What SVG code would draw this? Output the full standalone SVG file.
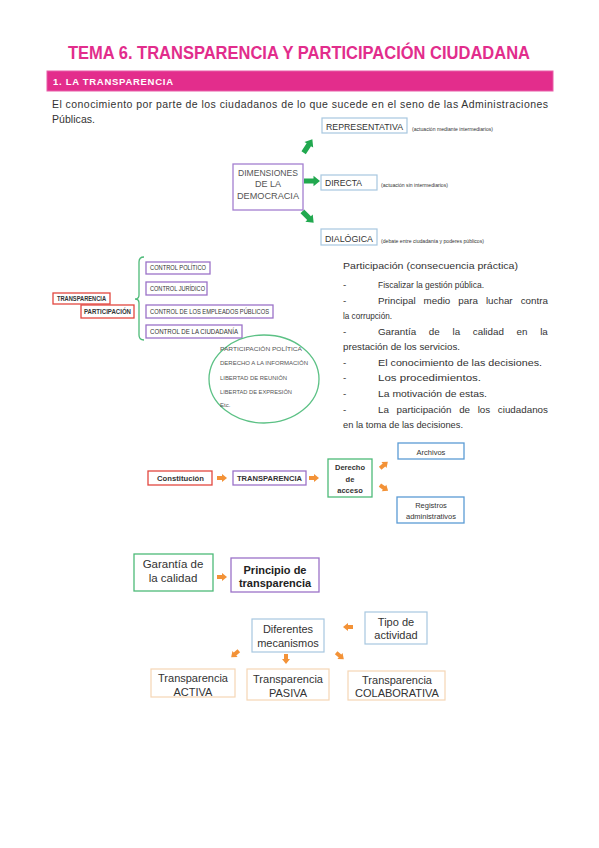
<svg xmlns="http://www.w3.org/2000/svg" width="599" height="848" viewBox="0 0 599 848">
<defs>
<style>
.t{font-family:"Liberation Sans",Arial,sans-serif;fill:#333}
.b{font-weight:bold}
.pur{fill:#fff;stroke:#9b72c8;stroke-width:1.3}
.red{fill:#fff;stroke:#e2473f;stroke-width:1.3}
.grn{fill:#fff;stroke:#4dba78;stroke-width:1.3}
.blu{fill:#fff;stroke:#5b9bd5;stroke-width:1.3}
.lblu{fill:#fff;stroke:#a7c7df;stroke-width:1.2}
.lor{fill:#fff;stroke:#f5d6b5;stroke-width:1.2}
.ga{fill:#21a84f}
.oa{fill:#f39237}
</style>
<polygon id="garr" points="-8,-2.6 1.5,-2.6 1.5,-5.2 8,0 1.5,5.2 1.5,2.6 -8,2.6"/>
<polygon id="oarr" points="-5,-2 0,-2 0,-4 5,0 0,4 0,2 -5,2"/>
</defs>
<rect width="599" height="848" fill="#fff"/>

<text class="t b" x="68" y="59" font-size="18.5" style="fill:#e22d8c" textLength="462" lengthAdjust="spacingAndGlyphs">TEMA 6. TRANSPARENCIA Y PARTICIPACIÓN CIUDADANA</text>
<rect x="47" y="71" width="506" height="20" fill="#e32d8c" stroke="#e85fa8" stroke-width="1"/>
<text class="t b" x="53" y="85" font-size="9.5" style="fill:#fff" textLength="120" lengthAdjust="spacing">1. LA TRANSPARENCIA</text>
<text class="t" x="52" y="108" font-size="10.5" textLength="496" lengthAdjust="spacing">El conocimiento por parte de los ciudadanos de lo que sucede en el seno de las Administraciones</text>
<text class="t" x="52" y="123" font-size="10.5" textLength="43" lengthAdjust="spacing">Públicas.</text>

<g id="connectors">
<use href="#garr" class="ga" transform="translate(308,146) rotate(-57)"/>
<use href="#garr" class="ga" transform="translate(312,181)"/>
<use href="#garr" class="ga" transform="translate(308,217) rotate(45)"/>
<path d="M144,257 Q139,257 139,262 L139,295 Q139,299 135,299 Q139,299 139,303 L139,335 Q139,340 144,340" fill="none" stroke="#4dba78" stroke-width="1.3"/>
<use href="#oarr" class="oa" transform="translate(222,478)"/>
<use href="#oarr" class="oa" transform="translate(314,478)"/>
<use href="#oarr" class="oa" transform="translate(384,465) rotate(-40)"/>
<use href="#oarr" class="oa" transform="translate(384,488) rotate(35)"/>
<use href="#oarr" class="oa" transform="translate(222,577)"/>
<use href="#oarr" class="oa" transform="translate(348,627) rotate(180)"/>
<use href="#oarr" class="oa" transform="translate(235,654) rotate(140)"/>
<use href="#oarr" class="oa" transform="translate(286,659) rotate(90)"/>
<use href="#oarr" class="oa" transform="translate(340,656) rotate(40)"/>
</g>

<g id="representativa">
<rect class="lblu" x="322" y="118" width="85" height="15"/>
<text class="t" x="326" y="129.5" font-size="9.5" textLength="77" lengthAdjust="spacingAndGlyphs">REPRESENTATIVA</text>
<text class="t" x="412" y="131" font-size="4.5" textLength="81" lengthAdjust="spacingAndGlyphs">(actuación mediante intermediarios)</text>
</g>
<g id="dimensiones">
<rect x="233" y="164" width="70" height="46" fill="#fff" stroke="#a47fd0" stroke-width="1.3"/>
<text class="t" x="268" y="175.5" font-size="9" text-anchor="middle" style="fill:#555" textLength="60" lengthAdjust="spacingAndGlyphs">DIMENSIONES</text>
<text class="t" x="268" y="187" font-size="9" text-anchor="middle" style="fill:#555">DE LA</text>
<text class="t" x="268" y="198.5" font-size="9" text-anchor="middle" style="fill:#555" textLength="62" lengthAdjust="spacingAndGlyphs">DEMOCRACIA</text>
</g>
<g id="directa">
<rect class="lblu" x="321" y="175" width="56" height="15"/>
<text class="t" x="325" y="185.5" font-size="9.5" textLength="37" lengthAdjust="spacingAndGlyphs">DIRECTA</text>
<text class="t" x="381" y="187" font-size="4.5" textLength="67" lengthAdjust="spacingAndGlyphs">(actuación sin intermediarios)</text>
</g>
<g id="dialogica">
<rect class="lblu" x="321" y="229" width="56" height="16"/>
<text class="t" x="325" y="241.5" font-size="9.5" textLength="48" lengthAdjust="spacingAndGlyphs">DIALÓGICA</text>
<text class="t" x="381" y="243" font-size="4.5" textLength="103" lengthAdjust="spacingAndGlyphs">(debate entre ciudadanía y poderes públicos)</text>
</g>

<g id="transparencia1">
<rect class="red" x="53" y="293" width="57" height="11"/>
<text class="t b" x="57" y="300.7" font-size="6.3" textLength="49" lengthAdjust="spacingAndGlyphs">TRANSPARENCIA</text>
</g>
<g id="participacion1">
<rect class="red" x="81" y="305" width="53" height="13"/>
<text class="t b" x="84" y="314" font-size="6.3" textLength="47" lengthAdjust="spacingAndGlyphs">PARTICIPACIÓN</text>
</g>
<g id="control-politico">
<rect class="pur" x="146" y="262" width="64" height="12"/>
<text class="t" x="150" y="270.3" font-size="6.3" textLength="56" lengthAdjust="spacingAndGlyphs">CONTROL POLÍTICO</text>
</g>
<g id="control-juridico">
<rect class="pur" x="146" y="282" width="61" height="13"/>
<text class="t" x="150" y="291" font-size="6.3" textLength="55" lengthAdjust="spacingAndGlyphs">CONTROL JURÍDICO</text>
</g>
<g id="control-empleados">
<rect class="pur" x="146" y="305" width="127" height="13"/>
<text class="t" x="150" y="314" font-size="6.3" textLength="119" lengthAdjust="spacingAndGlyphs">CONTROL DE LOS EMPLEADOS PÚBLICOS</text>
</g>
<g id="control-ciudadania">
<rect class="pur" x="146" y="325" width="96" height="13"/>
<text class="t" x="150" y="334" font-size="6.3" textLength="88" lengthAdjust="spacingAndGlyphs">CONTROL DE LA CIUDADANÍA</text>
</g>
<g id="derechos">
<ellipse cx="264" cy="379" rx="55" ry="44" fill="none" stroke="#5cc185" stroke-width="1.3"/>
<text class="t" x="220" y="351" font-size="6" style="fill:#555" textLength="82" lengthAdjust="spacingAndGlyphs">PARTICIPACIÓN POLÍTICA</text>
<text class="t" x="220" y="365" font-size="6" style="fill:#555" textLength="88" lengthAdjust="spacingAndGlyphs">DERECHO A LA INFORMACIÓN</text>
<text class="t" x="220" y="380" font-size="6" style="fill:#555" textLength="67" lengthAdjust="spacingAndGlyphs">LIBERTAD DE REUNIÓN</text>
<text class="t" x="220" y="394" font-size="6" style="fill:#555" textLength="72" lengthAdjust="spacingAndGlyphs">LIBERTAD DE EXPRESIÓN</text>
<text class="t" x="220" y="407" font-size="6" style="fill:#555">Etc.</text>
</g>

<g id="consecuencias" font-size="9.8">
<text class="t" x="343" y="269" textLength="175" lengthAdjust="spacingAndGlyphs">Participación (consecuencia práctica)</text>
<g class="t">
<text x="343" y="288">-</text><text x="378" y="288" textLength="106" lengthAdjust="spacingAndGlyphs">Fiscalizar la gestión pública.</text>
<text x="343" y="304">-</text><text x="378" y="304" word-spacing="5.3">Principal medio para luchar contra</text>
<text x="343" y="319" textLength="49" lengthAdjust="spacingAndGlyphs">la corrupción.</text>
<text x="343" y="335">-</text><text x="378" y="335" word-spacing="10">Garantía de la calidad en la</text>
<text x="343" y="350" textLength="117" lengthAdjust="spacingAndGlyphs">prestación de los servicios.</text>
<text x="343" y="366">-</text><text x="378" y="366" textLength="164" lengthAdjust="spacingAndGlyphs">El conocimiento de las decisiones.</text>
<text x="343" y="381">-</text><text x="378" y="381" textLength="103" lengthAdjust="spacingAndGlyphs">Los procedimientos.</text>
<text x="343" y="397">-</text><text x="378" y="397" textLength="109" lengthAdjust="spacingAndGlyphs">La motivación de estas.</text>
<text x="343" y="413">-</text><text x="378" y="413" word-spacing="4.9">La participación de los ciudadanos</text>
<text x="343" y="428" textLength="120" lengthAdjust="spacingAndGlyphs">en la toma de las decisiones.</text>
</g>
</g>

<g id="constitucion">
<rect class="red" x="148" y="471" width="64" height="14"/>
<text class="t b" x="157" y="481" font-size="7.5" textLength="47" lengthAdjust="spacingAndGlyphs">Constitución</text>
</g>
<g id="transparencia2">
<rect class="pur" x="233" y="471" width="73" height="14"/>
<text class="t b" x="237" y="481" font-size="7.5" textLength="65" lengthAdjust="spacingAndGlyphs">TRANSPARENCIA</text>
</g>
<g id="derecho-acceso">
<rect class="grn" x="328" y="459" width="44" height="38"/>
<text class="t b" x="350" y="470" font-size="7.5" text-anchor="middle">Derecho</text>
<text class="t b" x="350" y="481.5" font-size="7.5" text-anchor="middle">de</text>
<text class="t b" x="350" y="493" font-size="7.5" text-anchor="middle">acceso</text>
</g>
<g id="archivos">
<rect class="blu" x="398" y="443" width="66" height="16"/>
<text class="t" x="431" y="454.5" font-size="7.5" text-anchor="middle">Archivos</text>
</g>
<g id="registros">
<rect class="blu" x="397" y="497" width="67" height="26"/>
<text class="t" x="431" y="507.5" font-size="7.5" text-anchor="middle">Registros</text>
<text class="t" x="431" y="518.5" font-size="7.5" text-anchor="middle">administrativos</text>
</g>

<g id="garantia">
<rect class="grn" x="134" y="554" width="79" height="37"/>
<text class="t" x="173" y="568" font-size="11.5" text-anchor="middle">Garantía de</text>
<text class="t" x="173" y="582" font-size="11.5" text-anchor="middle">la calidad</text>
</g>
<g id="principio">
<rect class="pur" x="231" y="558" width="88" height="34"/>
<text class="t b" x="275" y="573.5" font-size="11" text-anchor="middle" style="fill:#222">Principio de</text>
<text class="t b" x="275" y="586.5" font-size="11" text-anchor="middle" style="fill:#222">transparencia</text>
</g>
<g id="tipo-actividad">
<rect class="lblu" x="365" y="612" width="62" height="32"/>
<text class="t" x="396" y="625.5" font-size="11" text-anchor="middle">Tipo de</text>
<text class="t" x="396" y="638.5" font-size="11" text-anchor="middle">actividad</text>
</g>
<g id="mecanismos">
<rect class="lblu" x="252" y="619" width="72" height="33"/>
<text class="t" x="288" y="633" font-size="11" text-anchor="middle">Diferentes</text>
<text class="t" x="288" y="646.5" font-size="11" text-anchor="middle">mecanismos</text>
</g>
<g id="activa">
<rect class="lor" x="151" y="669" width="84" height="28"/>
<text class="t" x="193" y="681.5" font-size="11" text-anchor="middle">Transparencia</text>
<text class="t" x="193" y="695.5" font-size="11" text-anchor="middle">ACTIVA</text>
</g>
<g id="pasiva">
<rect class="lor" x="247" y="669" width="82" height="31"/>
<text class="t" x="288" y="683" font-size="11" text-anchor="middle">Transparencia</text>
<text class="t" x="288" y="697" font-size="11" text-anchor="middle">PASIVA</text>
</g>
<g id="colaborativa">
<rect class="lor" x="348" y="671" width="97" height="29"/>
<text class="t" x="397" y="684" font-size="11" text-anchor="middle">Transparencia</text>
<text class="t" x="397" y="697" font-size="11" text-anchor="middle">COLABORATIVA</text>
</g>
</svg>
